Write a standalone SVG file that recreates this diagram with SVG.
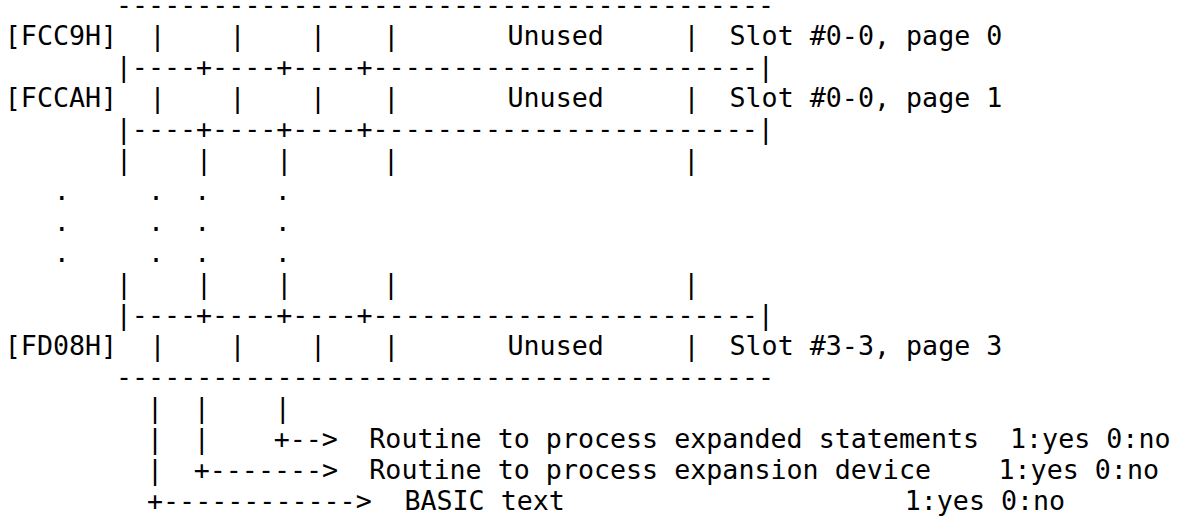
<svg xmlns="http://www.w3.org/2000/svg" width="1184" height="518" viewBox="0 0 1184 518" xml:space="preserve">
<style>
text { font-family: "DejaVu Sans Mono", "Liberation Mono", monospace; font-size: 26.67px; fill: #000; white-space: pre; }
.c { text-anchor: middle; }
</style>
<rect width="1184" height="518" fill="#fff"/>
<g id="table-frame">
<text x="116" y="13.5">-----------------------------------------</text>
<text x="115.8" y="75.6">|----+----+----+------------------------|</text>
<text x="115.8" y="137.7">|----+----+----+------------------------|</text>
<text x="115.8" y="324">|----+----+----+------------------------|</text>
<text x="116" y="386.1">-----------------------------------------</text>
</g>
<g id="row-FCC9H">
<text x="4.8" y="44.55">[FCC9H]</text>
<text class="c" x="157.5" y="44.55">|</text>
<text class="c" x="237.5" y="44.55">|</text>
<text class="c" x="318" y="44.55">|</text>
<text class="c" x="391.3" y="44.55">|</text>
<text x="507.5" y="44.55">Unused</text>
<text class="c" x="691.5" y="44.55">|</text>
<text x="729.5" y="44.55">Slot #0-0, page 0</text>
</g>
<g id="row-FCCAH">
<text x="4.8" y="106.65">[FCCAH]</text>
<text class="c" x="157.5" y="106.65">|</text>
<text class="c" x="237.5" y="106.65">|</text>
<text class="c" x="318" y="106.65">|</text>
<text class="c" x="391.3" y="106.65">|</text>
<text x="507.5" y="106.65">Unused</text>
<text class="c" x="691.5" y="106.65">|</text>
<text x="729.5" y="106.65">Slot #0-0, page 1</text>
</g>
<g id="ellipsis">
<text class="c" x="124" y="168.75">|</text>
<text class="c" x="204" y="168.75">|</text>
<text class="c" x="284.3" y="168.75">|</text>
<text class="c" x="391" y="168.75">|</text>
<text class="c" x="691.3" y="168.75">|</text>
<text class="c" x="61.7" y="199.8">.</text>
<text class="c" x="156" y="199.8">.</text>
<text class="c" x="202.3" y="199.8">.</text>
<text class="c" x="282.7" y="199.8">.</text>
<text class="c" x="61.7" y="230.85">.</text>
<text class="c" x="156" y="230.85">.</text>
<text class="c" x="202.3" y="230.85">.</text>
<text class="c" x="282.7" y="230.85">.</text>
<text class="c" x="61.7" y="261.9">.</text>
<text class="c" x="156" y="261.9">.</text>
<text class="c" x="202.3" y="261.9">.</text>
<text class="c" x="282.7" y="261.9">.</text>
<text class="c" x="124" y="292.95">|</text>
<text class="c" x="204" y="292.95">|</text>
<text class="c" x="284.3" y="292.95">|</text>
<text class="c" x="391" y="292.95">|</text>
<text class="c" x="691.3" y="292.95">|</text>
</g>
<g id="row-FD08H">
<text x="4.8" y="355.05">[FD08H]</text>
<text class="c" x="157.5" y="355.05">|</text>
<text class="c" x="237.5" y="355.05">|</text>
<text class="c" x="318" y="355.05">|</text>
<text class="c" x="391.3" y="355.05">|</text>
<text x="507.5" y="355.05">Unused</text>
<text class="c" x="691.5" y="355.05">|</text>
<text x="729.5" y="355.05">Slot #3-3, page 3</text>
</g>
<g id="connectors">
<text class="c" x="155" y="417.15">|</text>
<text class="c" x="201.7" y="417.15">|</text>
<text class="c" x="282.7" y="417.15">|</text>
<text class="c" x="155" y="448.2">|</text>
<text class="c" x="201.7" y="448.2">|</text>
<text x="273.7" y="448.2">+--&gt;</text>
<text class="c" x="155" y="479.25">|</text>
<text x="193.7" y="479.25">+-------&gt;</text>
<text x="147" y="510.3">+------------&gt;</text>
</g>
<g id="legend-expanded-statements">
<text x="369.3" y="448.2">Routine to process expanded statements</text>
<text x="1010" y="448.2">1:yes 0:no</text>
</g>
<g id="legend-expansion-device">
<text x="369.3" y="479.25">Routine to process expansion device</text>
<text x="998.5" y="479.25">1:yes 0:no</text>
</g>
<g id="legend-basic-text">
<text x="404.4" y="510.3">BASIC text</text>
<text x="904.7" y="510.3">1:yes 0:no</text>
</g>
</svg>
